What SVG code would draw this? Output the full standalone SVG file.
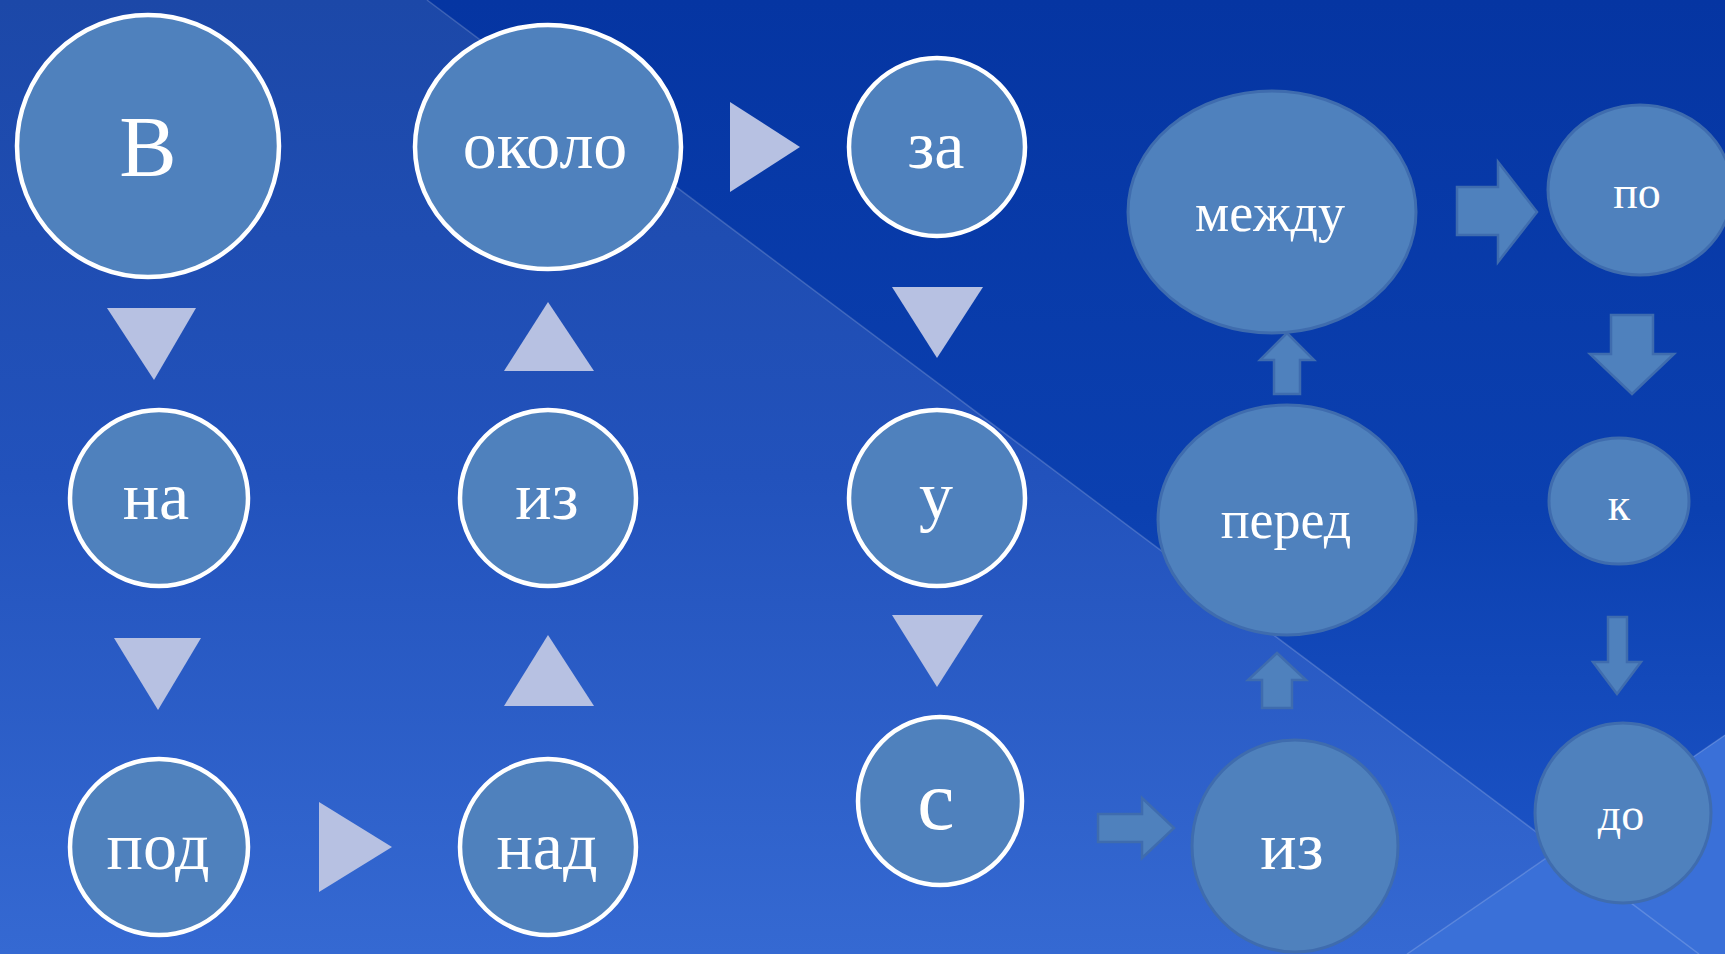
<svg xmlns="http://www.w3.org/2000/svg" width="1725" height="954" viewBox="0 0 1725 954">
  <defs>
    <linearGradient id="bgLight" x1="0" y1="0" x2="0" y2="1">
      <stop offset="0" stop-color="#1c48a8"/>
      <stop offset="0.5" stop-color="#2252bc"/>
      <stop offset="1" stop-color="#3569d2"/>
    </linearGradient>
    <linearGradient id="bgDark" x1="0" y1="0" x2="0" y2="1">
      <stop offset="0" stop-color="#0535a2"/>
      <stop offset="0.6" stop-color="#0b40b0"/>
      <stop offset="1" stop-color="#1b52c4"/>
    </linearGradient>
    <style>
      .wnode { fill: #4f81bd; stroke: #ffffff; stroke-width: 4.5; }
      .bnode { fill: #4f81bd; stroke: #3f6cae; stroke-width: 3; }
      .tri { fill: #b7c1e2; }
      .blk { fill: #4f81bd; stroke: #3f6cae; stroke-width: 2.5; stroke-linejoin: miter; }
      .lbl { fill: #ffffff; font-family: "Liberation Serif", "DejaVu Serif", serif; text-anchor: middle; }
      .big { font-size: 68px; }
      .sm { font-size: 54px; }
      .xs { font-size: 46px; }
      .edge { stroke: #ffffff; stroke-opacity: 0.18; stroke-width: 1.5; fill: none; }
    </style>
  </defs>

  <g id="background">
    <rect x="0" y="0" width="1725" height="954" fill="url(#bgLight)"/>
    <polygon points="427,0 1725,0 1725,735 1559,849" fill="url(#bgDark)"/>
    <polygon points="1407,954 1725,735 1725,954" fill="#3a70d8"/>
    <polyline class="edge" points="427,0 1699,954"/>
    <polyline class="edge" points="1407,954 1725,735"/>
  </g>

  <g id="connectors">
    <polygon class="tri" points="107,308 196,308 154,380"/>
    <polygon class="tri" points="114,638 201,638 158,710"/>
    <polygon class="tri" points="319,802 319,892 392,847"/>
    <polygon class="tri" points="504,706 594,706 548,635"/>
    <polygon class="tri" points="504,371 594,371 548,302"/>
    <polygon class="tri" points="730,102 730,192 800,147"/>
    <polygon class="tri" points="892,287 983,287 937,358"/>
    <polygon class="tri" points="892,615 983,615 937,687"/>
    <polygon class="blk" points="1098,814 1142,814 1142,798 1174,828 1142,858 1142,842 1098,842"/>
    <polygon class="blk" points="1262,708 1262,680 1248,680 1277,653 1306,680 1292,680 1292,708"/>
    <polygon class="blk" points="1274,394 1274,360 1260,360 1287,333 1314,360 1300,360 1300,394"/>
    <polygon class="blk" points="1457,187 1498,187 1498,162 1537,212 1498,262 1498,235 1457,235"/>
    <polygon class="blk" points="1611,315 1653,315 1653,354 1674,354 1632,394 1590,354 1611,354"/>
    <polygon class="blk" points="1608,617 1627,617 1627,662 1641,662 1617,694 1593,662 1608,662"/>
  </g>

  <g id="node-v">
    <ellipse class="wnode" cx="148" cy="146" rx="131" ry="131"/>
    <text class="lbl" x="148" y="176" font-size="86">В</text>
  </g>
  <g id="node-na">
    <ellipse class="wnode" cx="159" cy="498" rx="89" ry="88"/>
    <text class="lbl big" x="156" y="519">на</text>
  </g>
  <g id="node-pod">
    <ellipse class="wnode" cx="159" cy="847" rx="89" ry="88"/>
    <text class="lbl big" x="158" y="869">под</text>
  </g>
  <g id="node-okolo">
    <ellipse class="wnode" cx="548" cy="147" rx="133" ry="122"/>
    <text class="lbl big" x="545" y="168">около</text>
  </g>
  <g id="node-iz1">
    <ellipse class="wnode" cx="548" cy="498" rx="88" ry="88"/>
    <text class="lbl big" x="547" y="519">из</text>
  </g>
  <g id="node-nad">
    <ellipse class="wnode" cx="548" cy="847" rx="88" ry="88"/>
    <text class="lbl big" x="547" y="869">над</text>
  </g>
  <g id="node-za">
    <ellipse class="wnode" cx="937" cy="147" rx="88" ry="89"/>
    <text class="lbl big" x="936" y="168">за</text>
  </g>
  <g id="node-u">
    <ellipse class="wnode" cx="937" cy="498" rx="88" ry="88"/>
    <text class="lbl big" x="936" y="519">у</text>
  </g>
  <g id="node-s">
    <ellipse class="wnode" cx="940" cy="801" rx="82" ry="84"/>
    <text class="lbl" x="936" y="829" font-size="84">с</text>
  </g>
  <g id="node-mezhdu">
    <ellipse class="bnode" cx="1272" cy="212" rx="144" ry="121"/>
    <text class="lbl sm" x="1270" y="231">между</text>
  </g>
  <g id="node-pered">
    <ellipse class="bnode" cx="1287" cy="520" rx="129" ry="115"/>
    <text class="lbl sm" x="1286" y="538">перед</text>
  </g>
  <g id="node-iz2">
    <ellipse class="bnode" cx="1295" cy="846" rx="103" ry="106"/>
    <text class="lbl big" x="1292" y="869">из</text>
  </g>
  <g id="node-po">
    <ellipse class="bnode" cx="1640" cy="190" rx="92" ry="85"/>
    <text class="lbl xs" x="1637" y="208">по</text>
  </g>
  <g id="node-k">
    <ellipse class="bnode" cx="1619" cy="501" rx="70" ry="63"/>
    <text class="lbl xs" x="1619" y="520">к</text>
  </g>
  <g id="node-do">
    <ellipse class="bnode" cx="1623" cy="813" rx="88" ry="90"/>
    <text class="lbl xs" x="1621" y="830">до</text>
  </g>
</svg>
